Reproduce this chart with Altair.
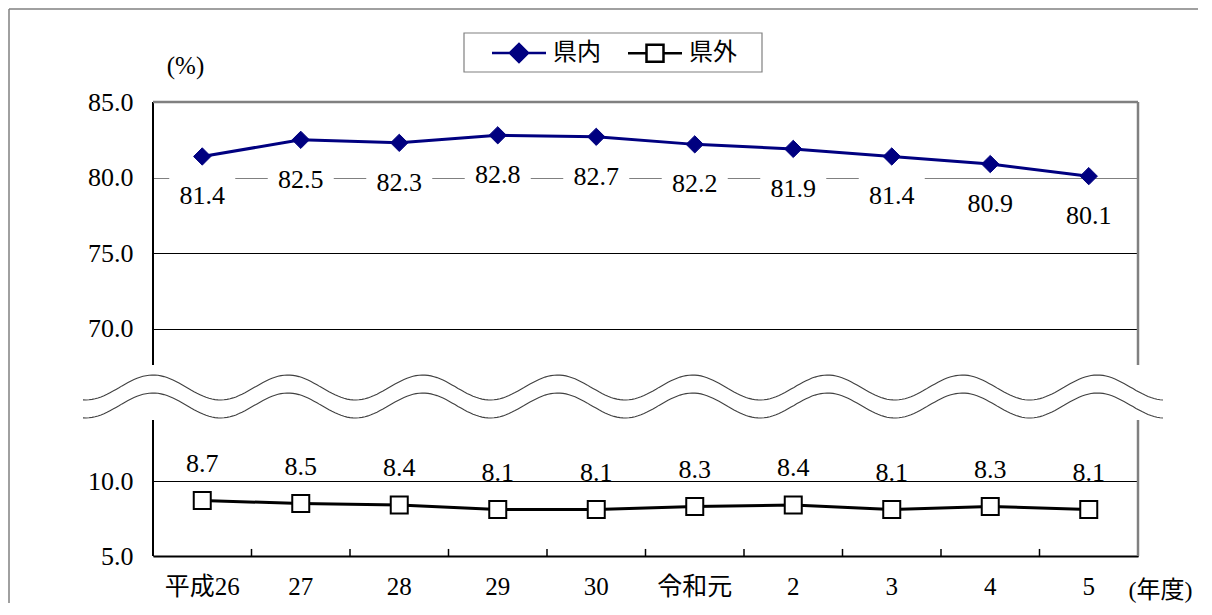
import math
import altair as alt
import pandas as pd

# ---------------- data ----------------
YEARS = ["平成26", "27", "28", "29", "30", "令和元", "2", "3", "4", "5"]
KENNAI = [81.4, 82.5, 82.3, 82.8, 82.7, 82.2, 81.9, 81.4, 80.9, 80.1]
KENGAI = [8.7, 8.5, 8.4, 8.1, 8.1, 8.3, 8.4, 8.1, 8.3, 8.1]
SERIES = ["県内", "県外"]
Y_TICKS = [5, 10, 70, 75, 80, 85]

# ---------------- layout constants ----------------
W, H = 985, 454
TOP_LOW, BOT_HIGH = 67.62, 14.07          # values at the edges of the axis break
FONT = "Liberation Serif, Noto Sans CJK JP"
NAVY = "#000080"
GRAY = "#808080"

df_in = pd.DataFrame({"year": YEARS, "value": KENNAI, "series": SERIES[0]})
df_out = pd.DataFrame({"year": YEARS, "value": KENGAI, "series": SERIES[1]})
df_all = pd.concat([df_in, df_out], ignore_index=True)
one = pd.DataFrame({"k": [0]})

yscale = alt.Scale(domain=[5, BOT_HIGH, TOP_LOW, 85], range=[H, 318, 263, 0],
                   nice=False, zero=False)
xscale = alt.Scale(type="band", paddingInner=0, paddingOuter=0)

xaxis = alt.Axis(title="(年度)", titleX=1007, titleY=34, titleAlign="center",
                 titleBaseline="middle", titleFont=FONT, titleFontSize=24,
                 titleFontWeight="normal", titleColor="black",
                 labelFont=FONT, labelFontSize=25, labelColor="black", labelAngle=0,
                 labelBaseline="middle", labelPadding=30,
                 ticks=False, tickSize=0, grid=False,
                 domain=True, domainColor="black", domainWidth=2)
yaxis = alt.Axis(title="(%)", titleAngle=0, titleX=32, titleY=-37, titleAlign="center",
                 titleBaseline="middle", titleFont=FONT, titleFontSize=25,
                 titleFontWeight="normal", titleColor="black",
                 values=Y_TICKS, format=".1f",
                 labelFont=FONT, labelFontSize=26, labelColor="black", labelPadding=20,
                 ticks=False, tickSize=0, domain=False, grid=True,
                 gridColor={"condition": {"test": "datum.value == 80 || datum.value == 85",
                                          "value": GRAY}, "value": "black"},
                 gridWidth=1.2)


def X(bp=0.5):
    return alt.X("year:N", sort=YEARS, scale=xscale, axis=xaxis, bandPosition=bp)


def Y():
    return alt.Y("value:Q", scale=yscale, axis=yaxis)


def YD(v):
    return alt.Y(datum=v, type="quantitative", scale=yscale, axis=yaxis)


# white boxes behind the 県内 labels
BOX = "M-33,-21 L33,-21 L33,21 L-33,21 Z"
boxes = alt.Chart(df_in).mark_point(shape=BOX, size=4, filled=True, fill="white",
                                    opacity=1, strokeWidth=0, yOffset=40).encode(x=X(), y=Y())

# legend symbols (line + marker)
LEG_IN = "M-27,0 L-9,0 M9,0 L27,0 M-9,0 L0,-9 L9,0 L0,9 Z"
LEG_OUT = "M-27,0 L-8.5,0 M8.5,0 L27,0 M-8.5,-8.5 L8.5,-8.5 L8.5,8.5 L-8.5,8.5 Z"
LEG = alt.Legend(
    orient="none", legendX=339, legendY=-61, direction="horizontal",
    title=None, labelFont=FONT, labelFontSize=24, labelColor="black",
    symbolOffset=15, labelOffset=22, columnPadding=22, padding=0,
    symbolSize=4, symbolStrokeWidth=2.5, symbolOpacity=1)
legend_layer = alt.Chart(df_all).mark_point(opacity=0, size=4, filled=True).encode(
    x=X(), y=Y(),
    shape=alt.Shape("series:N", sort=SERIES,
                    scale=alt.Scale(domain=SERIES, range=[LEG_IN, LEG_OUT]), legend=LEG),
    fill=alt.Fill("series:N", sort=SERIES,
                  scale=alt.Scale(domain=SERIES, range=[NAVY, "white"]), legend=LEG),
    stroke=alt.Stroke("series:N", sort=SERIES,
                      scale=alt.Scale(domain=SERIES, range=[NAVY, "black"]), legend=LEG))

line_in = alt.Chart(df_in).mark_line(color=NAVY, strokeWidth=3).encode(x=X(), y=Y())
pts_in = alt.Chart(df_in).mark_point(shape="diamond", size=300, filled=True, fill=NAVY,
                                     stroke=NAVY, strokeWidth=1, opacity=1).encode(x=X(), y=Y())
line_out = alt.Chart(df_out).mark_line(color="black", strokeWidth=3).encode(x=X(), y=Y())
pts_out = alt.Chart(df_out).mark_point(shape="square", size=289, filled=True, fill="white",
                                       stroke="black", strokeWidth=2, opacity=1).encode(x=X(), y=Y())

txt_in = alt.Chart(df_in).mark_text(dy=40, font=FONT, fontSize=26, color="black",
                                    baseline="middle").encode(
    x=X(), y=Y(), text=alt.Text("value:Q", format=".1f"))
txt_out = alt.Chart(df_out).mark_text(dy=-37, font=FONT, fontSize=26, color="black",
                                      baseline="middle").encode(
    x=X(), y=Y(), text=alt.Text("value:Q", format=".1f"))

# inward ticks at category boundaries
ticks = alt.Chart(pd.DataFrame({"year": YEARS[1:]})).mark_rule(color="black", strokeWidth=1.5).encode(
    x=X(0), y=YD(5), y2=alt.datum(5.47))

# axis lines with break
left_top = alt.Chart(one).mark_rule(color="black", strokeWidth=2).encode(
    x=alt.value(0), y=YD(85), y2=alt.datum(TOP_LOW))
left_bot = alt.Chart(one).mark_rule(color="black", strokeWidth=2).encode(
    x=alt.value(0), y=YD(BOT_HIGH), y2=alt.datum(5))
right_top = alt.Chart(one).mark_rule(color=GRAY, strokeWidth=2.5).encode(
    x=alt.value(W), y=YD(85), y2=alt.datum(TOP_LOW))
right_bot = alt.Chart(one).mark_rule(color=GRAY, strokeWidth=2.5).encode(
    x=alt.value(W), y=YD(BOT_HIGH), y2=alt.datum(5))
top_border = alt.Chart(one).mark_rule(color=GRAY, strokeWidth=2.5).encode(
    x=alt.value(0), x2=alt.value(W), y=YD(85))

# wavy break decoration
P = 134.9
CX, CY = 471, 294.5
xs = [-70 + i * 3 for i in range(int(1082 / 3) + 1)]
upper = [(x - CX, -9 - 12.5 * math.cos(2 * math.pi * x / P)) for x in xs]
lower = [(x - CX, 9 - 12.5 * math.cos(2 * math.pi * x / P)) for x in xs]


def poly(pts):
    return "M" + " L".join(f"{a:.1f},{b:.1f}" for a, b in pts)


WAVE_FILL = poly(upper + lower[::-1]) + " Z"
WAVE_LINES = poly(upper) + " " + poly(lower)
wave_fill = alt.Chart(one).mark_point(shape=WAVE_FILL, size=4, filled=True, fill="white",
                                      strokeWidth=0, opacity=1).encode(
    x=alt.value(CX), y=alt.value(CY))
wave_line = alt.Chart(one).mark_point(shape=WAVE_LINES, size=4, filled=False, fill="transparent",
                                      stroke="#404040", strokeWidth=1.1, opacity=1).encode(
    x=alt.value(CX), y=alt.value(CY))

# legend frame and outer frame
legend_box = alt.Chart(one).mark_rect(filled=False, stroke=GRAY, strokeWidth=1.2).encode(
    x=alt.value(311), x2=alt.value(609), y=alt.value(-69), y2=alt.value(-30))
frame_top = alt.Chart(one).mark_rule(color=GRAY, strokeWidth=1.5).encode(
    x=alt.value(-144), x2=alt.value(1100), y=alt.value(-93))
frame_left = alt.Chart(one).mark_rule(color=GRAY, strokeWidth=1.5).encode(
    x=alt.value(-144), y=alt.value(-93), y2=alt.value(600))

chart = alt.layer(
    boxes, legend_layer, line_in, pts_in, line_out, pts_out, txt_in, txt_out,
    ticks, left_top, left_bot, right_top, right_bot, top_border,
    wave_fill, wave_line, legend_box, frame_top, frame_left
).properties(
    width=W, height=H,
    autosize=alt.AutoSizeParams(type="none"),
    padding={"left": 145, "top": 94, "right": 60, "bottom": 47},
    background="white",
).configure_view(strokeWidth=0)

chart.save("out.html", embed_options={"renderer": "svg", "actions": False})
